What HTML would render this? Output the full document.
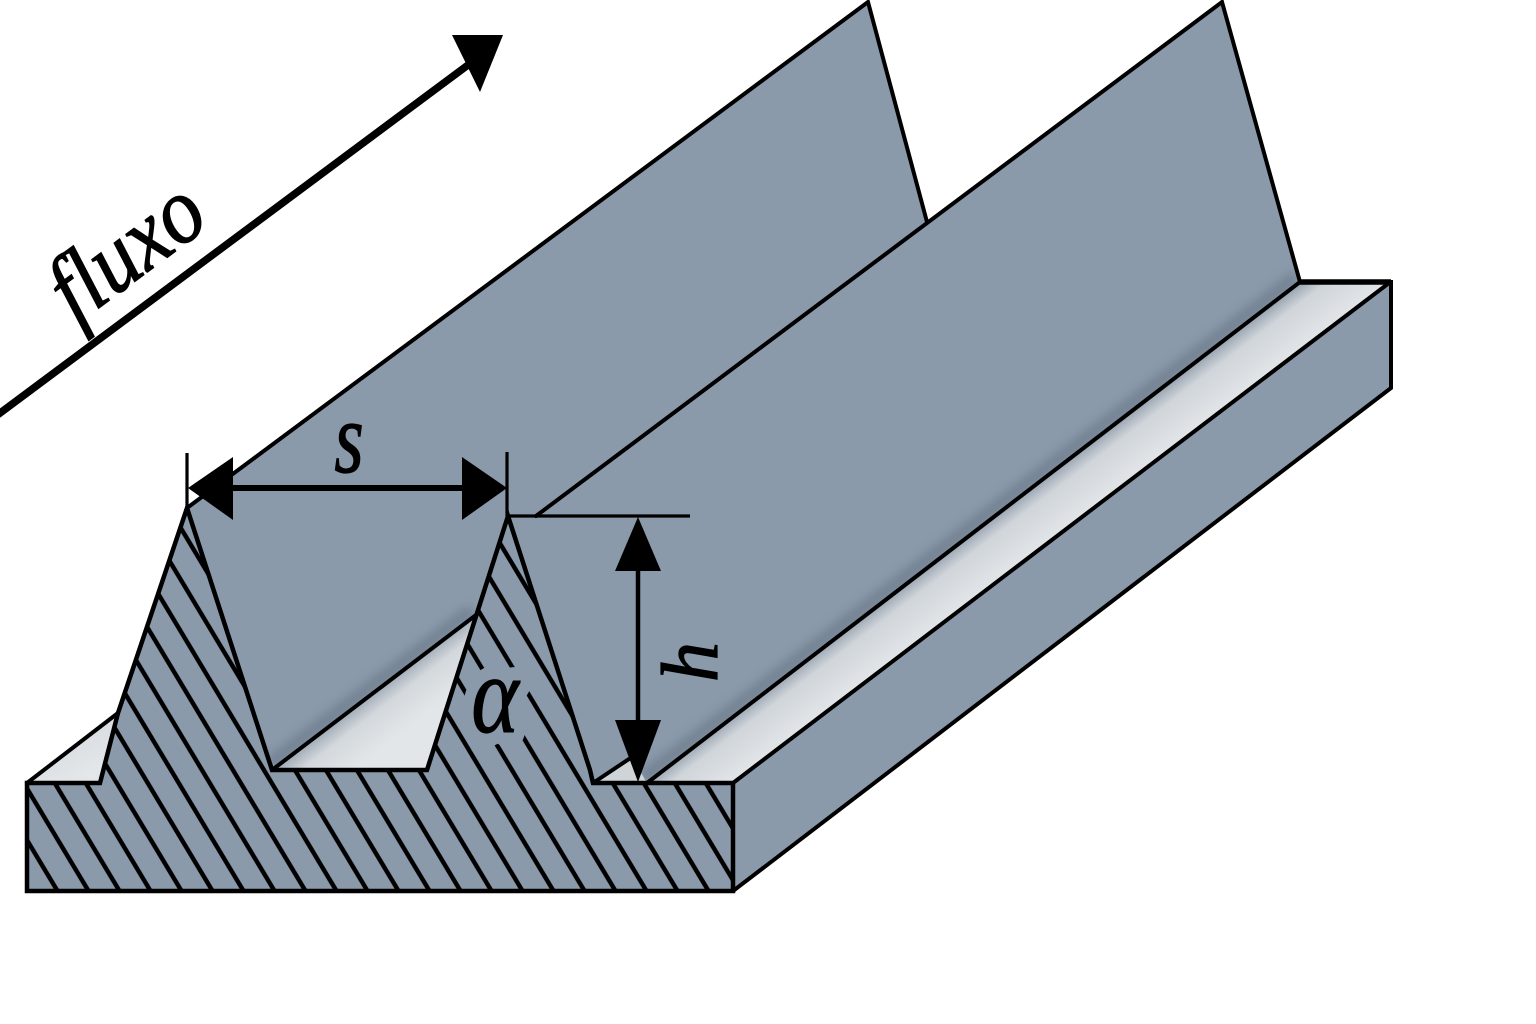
<!DOCTYPE html>
<html>
<head>
<meta charset="utf-8">
<style>
  html,body{margin:0;padding:0;background:#ffffff;}
  svg{display:block;}
  text{font-family:"Liberation Serif", "DejaVu Serif", serif;font-style:italic;fill:#000;}
</style>
</head>
<body>
<svg width="1536" height="1024" viewBox="0 0 1536 1024" xmlns="http://www.w3.org/2000/svg">
  <defs>
    <pattern id="hatch" width="31" height="1024" patternUnits="userSpaceOnUse"
             patternTransform="translate(-492.5 0) skewX(30.96)">
      <rect x="12.9" y="0" width="5.2" height="1024" fill="#000"/>
    </pattern>
    <linearGradient id="strip" gradientUnits="userSpaceOnUse" x1="1000" y1="512" x2="1032" y2="554">
      <stop offset="0" stop-color="#9aa5b2"/>
      <stop offset="0.3" stop-color="#d0d5da"/>
      <stop offset="1" stop-color="#e2e5e8"/>
    </linearGradient>
    <linearGradient id="floor" gradientUnits="userSpaceOnUse" x1="372" y1="693" x2="403" y2="733">
      <stop offset="0" stop-color="#a0aab6"/>
      <stop offset="0.35" stop-color="#d3d8dc"/>
      <stop offset="1" stop-color="#e3e6e9"/>
    </linearGradient>
    <linearGradient id="lefttri" gradientUnits="userSpaceOnUse" x1="60" y1="740" x2="80" y2="780">
      <stop offset="0" stop-color="#d8dce0"/>
      <stop offset="1" stop-color="#e4e7ea"/>
    </linearGradient>
    <filter id="blur" x="-20%" y="-20%" width="140%" height="140%">
      <feGaussianBlur stdDeviation="5"/>
    </filter>
    <clipPath id="grayclip">
      <polygon points="187,508 868,2 927,222 1222,2 1300,282 647,783 272,770"/>
    </clipPath>
  </defs>

  <!-- back gray faces -->
  <polygon points="187,508 868,2 927,222 1222,2 1300,282 647,783 593,783 272,770" fill="#8b9aab"/>

  <!-- soft shadows near base lines -->
  <g clip-path="url(#grayclip)" filter="url(#blur)" opacity="0.55">
    <line x1="1296" y1="277" x2="643" y2="778" stroke="#5e6d7d" stroke-width="12"/>
    <line x1="268" y1="765" x2="472" y2="610" stroke="#5e6d7d" stroke-width="12"/>
  </g>

  <!-- light floor between ridges -->
  <polygon points="272,770 427,770 476,615" fill="url(#floor)"/>
  <!-- light strip -->
  <polygon points="647,783 733,783 1387,284 1300,282" fill="url(#strip)"/>
  <polygon points="594,783 632,757 647,783" fill="#cfd4d9"/>
  <!-- light top-left triangle -->
  <polygon points="27,783 118,713 100,783" fill="url(#lefttri)"/>

  <!-- box right face -->
  <polygon points="733,783 1391,282 1391,388 733,891" fill="#8b9aab"/>

  <!-- front cross-section -->
  <polygon points="27,783 100,783 118,713 187,508 272,770 427,770 508,516 590,770 593,783 733,783 733,891 27,891" fill="#8b9aab"/>
  <polygon points="27,783 100,783 118,713 187,508 272,770 427,770 508,516 590,770 593,783 733,783 733,891 27,891" fill="url(#hatch)"/>

  <!-- alpha with knock-out -->
  <text transform="translate(495,732) scale(0.82,1)" text-anchor="middle" font-size="110"
        stroke="#8b9aab" stroke-width="28" stroke-linejoin="round" paint-order="stroke">α</text>
  <text transform="translate(495,732) scale(0.82,1)" text-anchor="middle" font-size="110"
        stroke="#000" stroke-width="1.2">α</text>

  <!-- outlines -->
  <g fill="none" stroke="#000" stroke-width="4" stroke-linejoin="miter" stroke-linecap="round">
    <polyline points="187,508 868,2 927,222"/>
    <polyline points="536,516 1222,2 1300,282 1391,282 1391,388 733,891"/>
    <line x1="1300" y1="282" x2="647" y2="783"/>
    <line x1="1389" y1="283" x2="733" y2="783"/>
    <line x1="272" y1="770" x2="476" y2="615"/>
    <line x1="593" y1="783" x2="632" y2="757"/>
    <line x1="27" y1="783" x2="118" y2="713"/>
    <polygon points="27,783 100,783 118,713 187,508 272,770 427,770 508,516 590,770 593,783 733,783 733,891 27,891" stroke-width="4.5"/>
  </g>
  <line x1="1300" y1="282" x2="1391" y2="282" stroke="#000" stroke-width="5.5"/>

  <!-- s dimension -->
  <g stroke="#000" fill="none">
    <line x1="187" y1="453" x2="187" y2="508" stroke-width="3.2"/>
    <line x1="507" y1="452" x2="507" y2="516" stroke-width="3.2"/>
    <line x1="225" y1="488" x2="470" y2="488" stroke-width="6"/>
  </g>
  <polygon points="188,488 233,457 233,520" fill="#000"/>
  <polygon points="507,488 462,457 462,520" fill="#000"/>
  <text transform="translate(349,472) scale(0.74,1)" text-anchor="middle" font-size="102" stroke="#000" stroke-width="1.2">s</text>

  <!-- h dimension -->
  <g stroke="#000" fill="none">
    <line x1="507" y1="516" x2="690" y2="516" stroke-width="3.2"/>
    <line x1="638" y1="560" x2="638" y2="730" stroke-width="4.5"/>
  </g>
  <polygon points="638,517 615,571 661,571" fill="#000"/>
  <polygon points="638,782 615,720 661,720" fill="#000"/>
  <text transform="translate(717,662) rotate(-90)" text-anchor="middle" font-size="80" stroke="#000" stroke-width="1.2">h</text>

  <!-- flow arrow -->
  <line x1="-4" y1="416" x2="468" y2="65" stroke="#000" stroke-width="7.5"/>
  <polygon points="503,35 452,35 480,92" fill="#000"/>
  <text transform="translate(76,325) rotate(-36.5) scale(0.9,1)" font-size="94" stroke="#000" stroke-width="1.3">fluxo</text>
</svg>
</body>
</html>
